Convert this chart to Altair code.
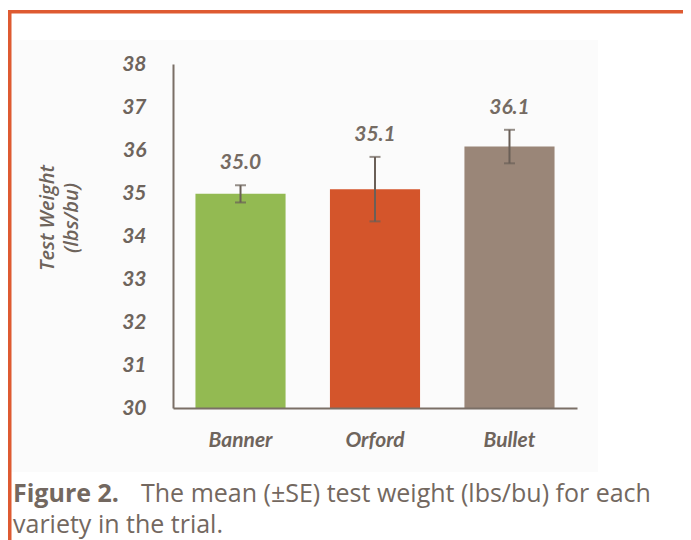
import altair as alt
import pandas as pd

# ---- data ----
varieties = ["Banner", "Orford", "Bullet"]
means = [34.98, 35.09, 36.08]
se = [0.20, 0.75, 0.39]
bar_colors = ["#93ba52", "#d4552b", "#9a8678"]
y_ticks = [30, 31, 32, 33, 34, 35, 36, 37, 38]
y_title_lines = ["Test Weight", "(lbs/bu)"]
caption_bold = "Figure 2."
caption_line1 = "The mean (\u00b1SE) test weight (lbs/bu) for each"
caption_line2 = "variety in the trial."

df = pd.DataFrame({"variety": varieties, "mean": means, "se": se})
df["lo"] = df["mean"] - df["se"]
df["hi"] = df["mean"] + df["se"]

TXT = "#6e645c"
AX = "#7a6f66"
ERR = "#6a5f57"
ORANGE = "#de5a31"
CAP = "#736860"
FONT = "Lato"

x_enc = alt.X(
    "variety:N",
    sort=varieties,
    scale=alt.Scale(paddingInner=0.33, paddingOuter=0.167),
    axis=alt.Axis(
        title=None, labelAngle=0, ticks=False, domainColor=AX, domainWidth=2,
        labelFont=FONT, labelFontSize=21, labelFontStyle="italic",
        labelFontWeight="bold", labelColor=TXT, labelPadding=21, zindex=2,
    ),
)
y_scale = alt.Scale(domain=[30, 38], zero=False, nice=False)

base = alt.Chart(df)

bars = base.mark_bar().encode(
    x=x_enc,
    y=alt.Y(
        "mean:Q", scale=y_scale,
        axis=alt.Axis(
            title=None, values=y_ticks, grid=False, ticks=False,
            domainColor=AX, domainWidth=2, labelFont=FONT, labelFontSize=21,
            labelFontStyle="italic", labelFontWeight="bold", labelColor=TXT,
            labelPadding=27, zindex=2,
        ),
    ),
    y2=alt.datum(30),
    color=alt.Color("variety:N", scale=alt.Scale(domain=varieties, range=bar_colors), legend=None),
)

rules = base.mark_rule(color=ERR, strokeWidth=2).encode(
    x=alt.X("variety:N", sort=varieties), y=alt.Y("lo:Q", scale=y_scale), y2="hi:Q"
)
cap_lo = base.mark_tick(color=ERR, thickness=2, size=11, orient="horizontal").encode(
    x=alt.X("variety:N", sort=varieties), y=alt.Y("lo:Q", scale=y_scale)
)
cap_hi = base.mark_tick(color=ERR, thickness=2, size=11, orient="horizontal").encode(
    x=alt.X("variety:N", sort=varieties), y=alt.Y("hi:Q", scale=y_scale)
)
labels = base.mark_text(
    dy=-22, font=FONT, fontSize=21, fontStyle="italic", fontWeight="bold", color="#756b63"
).encode(
    x=alt.X("variety:N", sort=varieties),
    y=alt.Y("hi:Q", scale=y_scale),
    text=alt.Text("mean:Q", format=".1f"),
)

one = alt.Chart(pd.DataFrame({"k": [0]}))

bg = one.mark_rect(color="#fbfbfb").encode(
    x=alt.value(-162), x2=alt.value(425), y=alt.value(-24), y2=alt.value(408)
)
top_border = one.mark_rule(color=ORANGE, strokeWidth=3.5).encode(
    x=alt.value(-165), x2=alt.value(510), y=alt.value(-52.25)
)
left_border = one.mark_rule(color=ORANGE, strokeWidth=3.5).encode(
    x=alt.value(-163.25), y=alt.value(-54), y2=alt.value(480)
)

ytitle1 = one.mark_text(
    angle=270, font="Open Sans", fontSize=20, fontStyle="italic", fontWeight=600, color=TXT
).encode(x=alt.value(-125), y=alt.value(154), text=alt.value(y_title_lines[0]))
ytitle2 = one.mark_text(
    angle=270, font="Open Sans", fontSize=20, fontStyle="italic", fontWeight=600, color=TXT
).encode(x=alt.value(-101), y=alt.value(154), text=alt.value(y_title_lines[1]))

cap_b = one.mark_text(
    align="left", baseline="alphabetic", font="Open Sans", fontSize=25,
    fontWeight="bold", color=CAP
).encode(x=alt.value(-160), y=alt.value(438), text=alt.value(caption_bold))
cap_1 = one.mark_text(
    align="left", baseline="alphabetic", font="Open Sans", fontSize=25,
    fontWeight=400, color=CAP
).encode(x=alt.value(-32), y=alt.value(438), text=alt.value(caption_line1))
cap_2 = one.mark_text(
    align="left", baseline="alphabetic", font="Open Sans", fontSize=25,
    fontWeight=400, color=CAP
).encode(x=alt.value(-160), y=alt.value(469), text=alt.value(caption_line2))

chart = alt.layer(
    bg, top_border, left_border, bars, rules, cap_lo, cap_hi, labels,
    ytitle1, ytitle2, cap_b, cap_1, cap_2,
).properties(
    width=404, height=344,
    padding={"left": 165, "top": 56, "right": 106, "bottom": 132},
    autosize=alt.AutoSizeParams(type="none"),
    background="white",
).configure_view(stroke=None)

chart.save("out.html", embed_options={"renderer": "svg", "actions": False})
